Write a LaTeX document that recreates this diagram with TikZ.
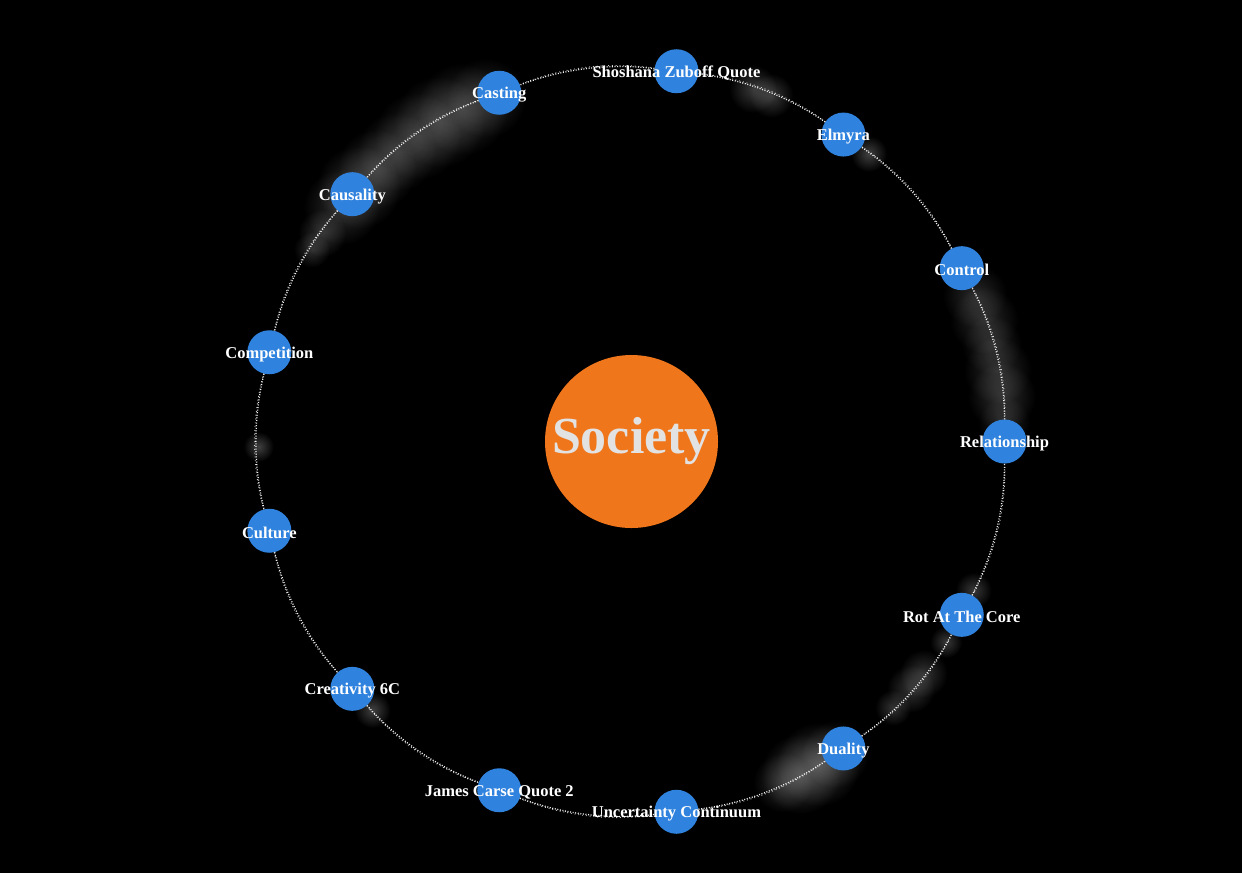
\documentclass[tikz,border=0pt]{standalone}
\usepackage{fontspec}
\setmainfont{Liberation Serif}
\usetikzlibrary{fadings}
\definecolor{nodeblue}{RGB}{47,130,221}
\definecolor{hub}{RGB}{240,118,28}
\definecolor{hubtext}{RGB}{226,226,226}
\tikzfading[name=glowfade, inner color=transparent!0, outer color=transparent!100]
\begin{document}
\begin{tikzpicture}[x=1pt,y=1pt,
  topic/.style={circle,fill=nodeblue,minimum size=44pt,inner sep=0pt},
  toplabel/.style={text=white,inner sep=0pt,font=\bfseries\fontsize{16.5}{16.5}\selectfont},
  link/.style={white,line width=1.3pt,dash pattern=on 1pt off 1.6pt,opacity=0.95},
  linkb/.style={white,line width=0.9pt,dash pattern=on 0.9pt off 2.9pt,opacity=0.8},
  glowfill/.style={fill=white,path fading=glowfade,fill opacity=#1},
]
\fill[black] (0,0) rectangle (1242,-873);
\useasboundingbox (0,0) rectangle (1242,-873);
\coordinate (C) at (631.5,-441.5);
% glows along the ring
\foreach \a/\r/\o in {
  113/40/0.16,117/46/0.18,121/46/0.18,125/44/0.16,129/40/0.16,133/40/0.18,137/42/0.2,141/38/0.18,
  146/24/0.2,149/18/0.18,
  68/22/0.22,71/24/0.22,
  50.5/18/0.25,
  23/32/0.16,19/34/0.16,15/30/0.15,11/34/0.16,7/34/0.18,3/26/0.15,
  -23.5/18/0.22,
  -32.5/16/0.22,-38.5/24/0.2,-41.5/24/0.2,-45.5/18/0.2,
  -57/34/0.18,-60/42/0.22,-63/40/0.22,-66/30/0.18,
  180.8/15/0.25,
  -134/18/0.25}
  \fill[glowfill=\o] ([shift={(\a:373)}]C) circle (\r);
% hub
\node[circle,fill=hub,minimum size=173pt,inner sep=0pt,text=hubtext,
  font=\bfseries\fontsize{52}{52}\selectfont] (hubnode) at (C) {Society};
% topics
\foreach \i/\nm in {0/rel,1/ctl,2/elm,3/sho,4/cas,5/cau,6/com,7/cul,8/cre,9/jam,10/unc,11/dua,12/rot}{
  \pgfmathsetmacro\ang{\i*360/13}
  \node[topic] (\nm) at ([shift={(\ang:373)}]C) {};
}
% links
\foreach \p/\q in {rel/ctl,ctl/elm,elm/sho,sho/cas,cas/cau,cau/com,com/cul,cul/cre,cre/jam,jam/unc,unc/dua,dua/rot,rot/rel}{
  \draw[link] (\p) to[bend right=13.85,looseness=0.86] (\q);
  \draw[linkb] (\p) to[bend right=15,looseness=0.88] (\q);
}
% labels
\foreach \nm/\txt in {rel/Relationship,ctl/Control,elm/Elmyra,sho/Shoshana Zuboff Quote,cas/Casting,cau/Causality,com/Competition,cul/Culture,cre/Creativity 6C,jam/James Carse Quote 2,unc/Uncertainty Continuum,dua/Duality,rot/Rot At The Core}
  \node[toplabel] (\nm-label) at ([yshift=-2pt]\nm.center) {\txt};
\end{tikzpicture}
\end{document}
